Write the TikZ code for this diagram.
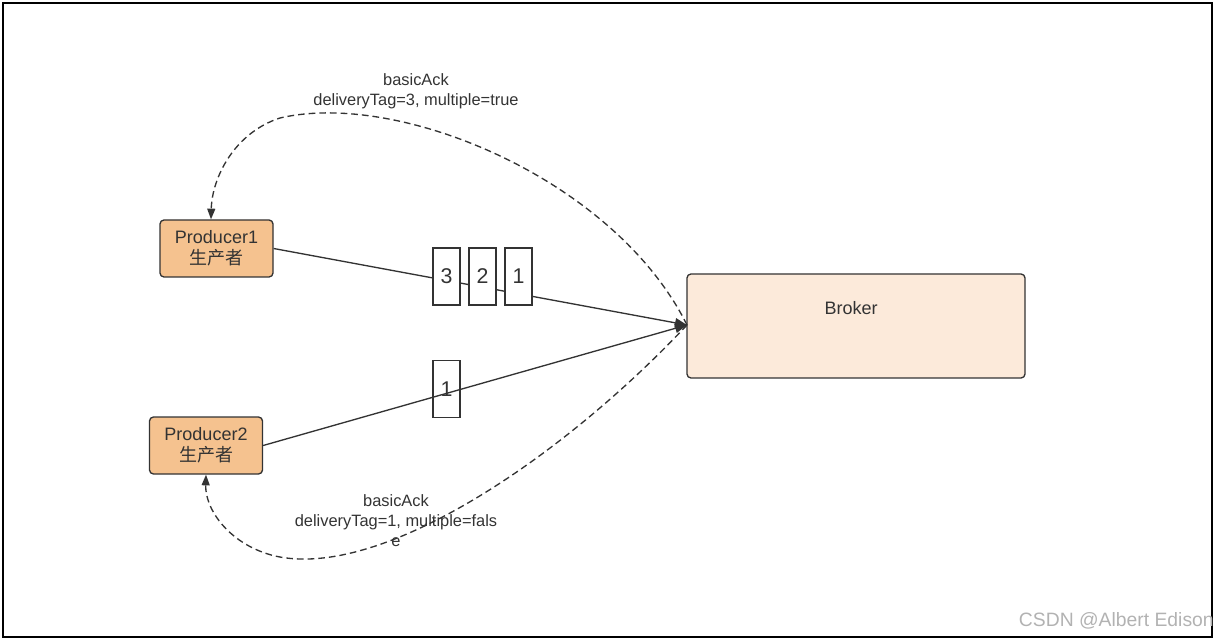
\documentclass[tikz,border=0pt]{standalone}
\usepackage{fontspec}
\setmainfont{Liberation Sans}
\newfontfamily\cjk{Noto Sans CJK SC}
\usetikzlibrary{arrows.meta}
\definecolor{prodfill}{HTML}{F5C28F}
\definecolor{brokfill}{HTML}{FCEADA}
\definecolor{edge}{HTML}{333333}
\definecolor{txt}{HTML}{333333}
\begin{document}
\begin{tikzpicture}[x=0.75pt,y=-0.75pt,
  prod/.style={draw=edge,line width=1pt,fill=prodfill,rounded corners=3pt,minimum width=84.75pt,minimum height=42.75pt,align=center,text=txt,font=\fontsize{13.5}{15.5}\selectfont,inner sep=0pt},
  brok/.style={draw=edge,line width=1pt,fill=brokfill,rounded corners=3pt,minimum width=253.5pt,minimum height=78pt,inner sep=0pt},
  msg/.style={draw=edge,line width=1pt,minimum width=20.25pt,minimum height=42.75pt,inner sep=0pt,text=txt,font=\fontsize{16}{18}\selectfont},
  conn/.style={draw=edge,line width=1pt,-{Triangle[length=9pt,width=7pt]}},
  ack/.style={draw=edge,line width=1pt,dash pattern=on 5pt off 3pt,-{Triangle[length=8pt,width=6pt]}},
  lbl/.style={align=center,text=txt,font=\fontsize{12.3}{15}\selectfont,inner sep=0pt},
]
\useasboundingbox (0,0) rectangle (1217,641);
\draw[line width=1pt,black] (3,3) rectangle (1212,637);

\node[prod] (p1) at (216.5,248.5) {Producer1\\{\cjk 生产者}};
\node[prod] (p2) at (206,445.5) {Producer2\\{\cjk 生产者}};
\node[brok] (b) at (856,326) {};
\node[text=txt,font=\fontsize{13.5}{15}\selectfont] (bt) at (851,308) {Broker};
\coordinate (bin) at (687,325);

\draw[conn] (p1.east) -- (bin);
\draw[conn] (p2.east) -- (bin);

\node[msg,fill=white] (m3) at (446.5,276.5) {3};
\node[msg,fill=white] (m2) at (482.5,276.5) {2};
\node[msg,fill=white] (m1) at (518.5,276.5) {1};
\node[msg] (n1) at (446.5,389) {1};

\draw[ack] (bin) .. controls (615,180) and (400,90) .. (280,118)
  .. controls (234,133) and (212,178) .. (p1.north -| 211,0);
\draw[ack] (bin) .. controls (560,460) and (380,580) .. (275,556)
  .. controls (230,545) and (205,510) .. (p2.south -| 206,0);

\node[lbl] (l1) at (416,91) {basicAck\\deliveryTag=3, multiple=true};
\node[lbl] (l2) at (396,521) {basicAck\\deliveryTag=1, multiple=fals\\e};

\node[anchor=east,text=gray!60,font=\fontsize{14.5}{16}\selectfont,inner sep=0pt] (wm) at (1214,621) {CSDN @Albert Edison};
\end{tikzpicture}
\end{document}
